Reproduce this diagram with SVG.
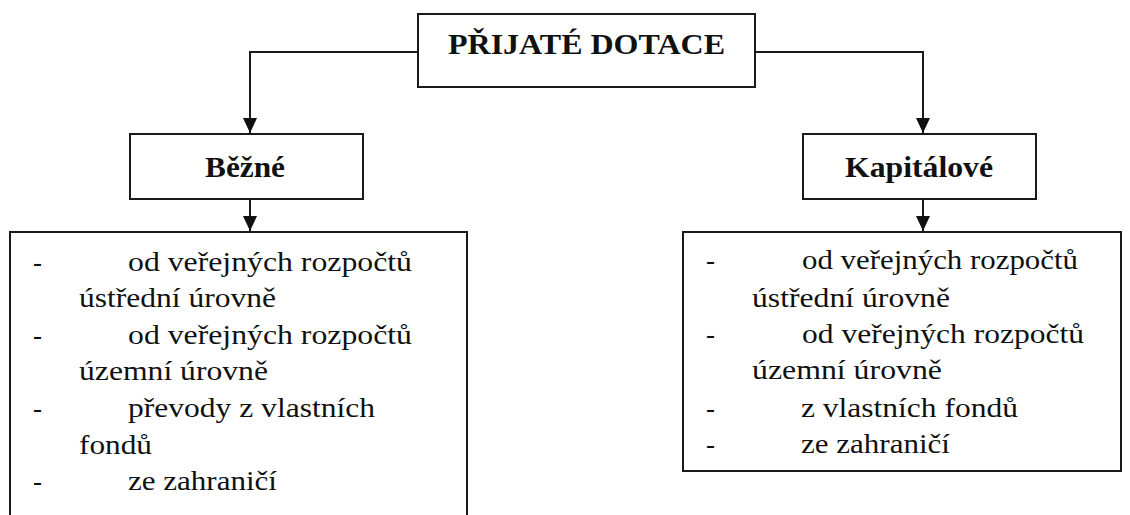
<svg xmlns="http://www.w3.org/2000/svg" width="1130" height="515" viewBox="0 0 1130 515">
  <style>
    .box { fill: #ffffff; stroke: #1a1a1a; stroke-width: 2; }
    .conn { fill: none; stroke: #1a1a1a; stroke-width: 2; }
    .title { font-family: 'Liberation Serif', 'DejaVu Serif', serif; font-weight: bold; font-size: 30px; fill: #111; }
    .item { font-family: 'Liberation Serif', 'DejaVu Serif', serif; font-size: 27px; fill: #111; }
  </style>
  <defs>
    <marker id="arrow" markerUnits="userSpaceOnUse" markerWidth="16" markerHeight="16" viewBox="0 0 16 16" refX="15" refY="8" orient="auto">
      <path d="M0,1 L15,8 L0,15 Z" fill="#111"/>
    </marker>
  </defs>
  <rect width="1130" height="515" fill="#ffffff"/>

  <g id="connectors">
    <path class="conn" d="M418,52 H250 V133" marker-end="url(#arrow)"/>
    <path class="conn" d="M755,52 H923 V133" marker-end="url(#arrow)"/>
    <path class="conn" d="M250,199 V231" marker-end="url(#arrow)"/>
    <path class="conn" d="M923,199 V231" marker-end="url(#arrow)"/>
  </g>

  <g id="node-prijate">
    <rect class="box" x="418" y="14" width="337" height="73"/>
    <text class="title" x="586.5" y="54" text-anchor="middle" textLength="277" lengthAdjust="spacingAndGlyphs">PŘIJATÉ DOTACE</text>
  </g>

  <g id="node-bezne">
    <rect class="box" x="130" y="134" width="233" height="65"/>
    <text class="title" x="245" y="177" text-anchor="middle" textLength="80" lengthAdjust="spacingAndGlyphs">Běžné</text>
  </g>

  <g id="node-kapitalove">
    <rect class="box" x="803" y="134" width="233" height="65"/>
    <text class="title" x="919" y="177" text-anchor="middle" textLength="148" lengthAdjust="spacingAndGlyphs">Kapitálové</text>
  </g>

  <g id="node-bezne-list">
    <rect class="box" x="10" y="232" width="457" height="300"/>
    <text class="item" x="33" y="270.5">-</text>
    <text class="item" x="128" y="270.5" textLength="284" lengthAdjust="spacingAndGlyphs">od veřejných rozpočtů</text>
    <text class="item" x="79" y="307" textLength="197" lengthAdjust="spacingAndGlyphs">ústřední úrovně</text>
    <text class="item" x="33" y="343.7">-</text>
    <text class="item" x="128" y="343.7" textLength="284" lengthAdjust="spacingAndGlyphs">od veřejných rozpočtů</text>
    <text class="item" x="79" y="380.3" textLength="189" lengthAdjust="spacingAndGlyphs">územní úrovně</text>
    <text class="item" x="33" y="417">-</text>
    <text class="item" x="128" y="417" textLength="247" lengthAdjust="spacingAndGlyphs">převody z vlastních</text>
    <text class="item" x="79" y="453.7" textLength="73" lengthAdjust="spacingAndGlyphs">fondů</text>
    <text class="item" x="33" y="490.3">-</text>
    <text class="item" x="128" y="490.3" textLength="149" lengthAdjust="spacingAndGlyphs">ze zahraničí</text>
  </g>

  <g id="node-kapitalove-list">
    <rect class="box" x="683" y="232" width="438" height="239"/>
    <text class="item" x="706" y="269">-</text>
    <text class="item" x="802" y="269" textLength="276" lengthAdjust="spacingAndGlyphs">od veřejných rozpočtů</text>
    <text class="item" x="752" y="307" textLength="198" lengthAdjust="spacingAndGlyphs">ústřední úrovně</text>
    <text class="item" x="706" y="343">-</text>
    <text class="item" x="802" y="343" textLength="282" lengthAdjust="spacingAndGlyphs">od veřejných rozpočtů</text>
    <text class="item" x="752" y="379" textLength="190" lengthAdjust="spacingAndGlyphs">územní úrovně</text>
    <text class="item" x="706" y="417">-</text>
    <text class="item" x="801" y="417" textLength="217" lengthAdjust="spacingAndGlyphs">z vlastních fondů</text>
    <text class="item" x="706" y="453">-</text>
    <text class="item" x="801" y="453" textLength="149" lengthAdjust="spacingAndGlyphs">ze zahraničí</text>
  </g>
</svg>
